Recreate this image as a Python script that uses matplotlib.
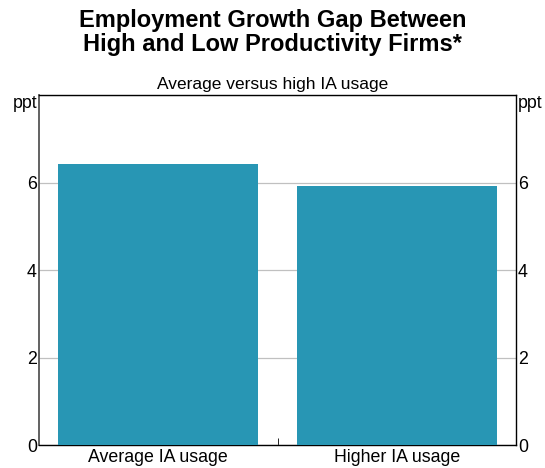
import matplotlib.pyplot as plt
import numpy as np

plt.rcParams['font.family'] = ['Liberation Sans', 'DejaVu Sans']

categories = ["Average IA usage", "Higher IA usage"]
values = [6.42, 5.92]
yticks = [0, 2, 4, 6, 8]
ytick_labels = ["0", "2", "4", "6", "ppt"]

fig = plt.figure(figsize=(5.45, 4.68), dpi=100)
ax = fig.add_axes([0.0716, 0.049, 0.8752, 0.748])

x = np.arange(len(categories))
ax.bar(x, values, width=0.84, color="#2896B4", zorder=3)

ax.set_xlim(-0.5, 1.5)
ax.set_ylim(0, 8)
ax.set_yticks(yticks)
ax.set_yticklabels(ytick_labels, fontsize=12.8)
ax.tick_params(axis="y", length=0, pad=1.5, labelright=True, right=True)
ax.grid(axis="y", color="#c0c0c0", linewidth=0.9, zorder=0)
# unit label sits just under the top of the axis
top_tick = ax.yaxis.get_major_ticks()[-1]
top_tick.label1.set_va("top")
top_tick.label2.set_va("top")

ax.set_xticks(x)
ax.set_xticklabels(categories, fontsize=12.8)
ax.tick_params(axis="x", length=0, pad=3)
ax.set_xticks([0.5], minor=True)
ax.tick_params(axis="x", which="minor", direction="in", length=5, color="black")

for s in ax.spines.values():
    s.set_color("black")
    s.set_linewidth(1.0)
ax.spines["left"].set_color("#555555")
ax.spines["left"].set_linewidth(1.3)

fig.text(0.5, 0.93, "Employment Growth Gap Between\nHigh and Low Productivity Firms*",
         ha="center", va="center", fontsize=17, fontweight="bold", linespacing=1.05)
fig.text(0.5, 0.82, "Average versus high IA usage", ha="center", va="center", fontsize=12.5)

fig.savefig("out.png", dpi=100)
